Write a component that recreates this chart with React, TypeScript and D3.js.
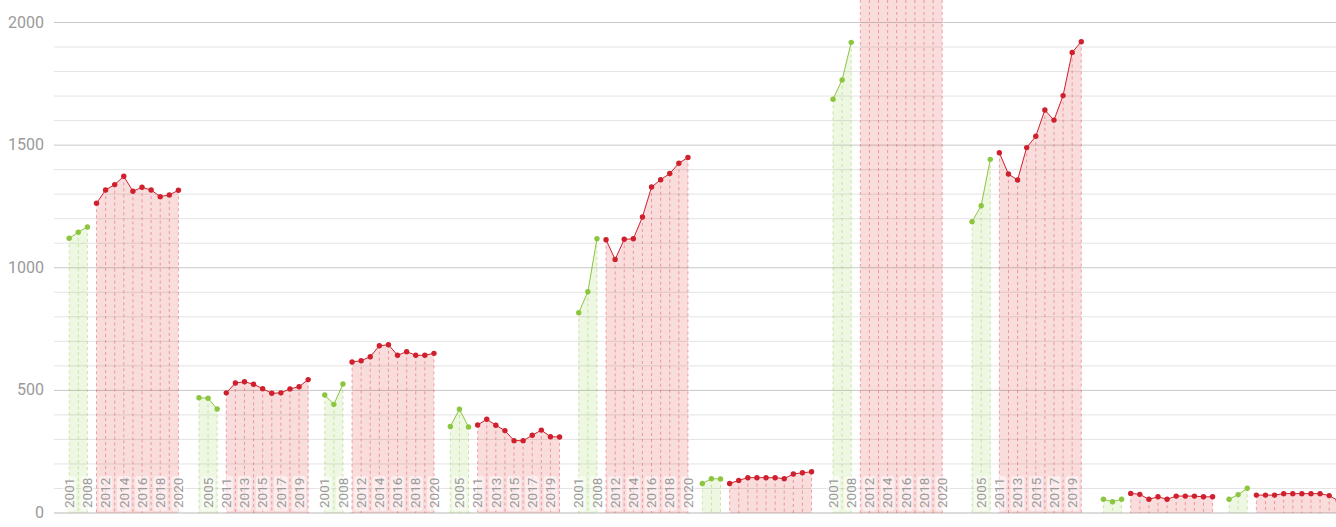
import React from "react";
import * as d3 from "d3";

// category labels
const years = ["2001", "2005", "2008", "2011", "2012", "2013", "2014", "2015", "2016", "2017", "2018", "2019", "2020"];
const greenYears = years.slice(0, 3);
const redYears = years.slice(3);

// where each group starts on the x axis (category units)
const groupStart = [0, 14.26, 28.08, 41.88, 55.99, 69.57, 83.93, 99.21, 113.64, 127.45];

const greenValues = [
  [1120, 1145, 1166],
  [470, 468, 424],
  [481, 443, 526],
  [353, 423, 351],
  [817, 902, 1118],
  [120, 140, 139],
  [1687, 1766, 1919],
  [1188, 1253, 1442],
  [56, 46, 56],
  [56, 75, 101],
];

const redValues = [
  [1263, 1317, 1339, 1373, 1312, 1328, 1317, 1290, 1297, 1316],
  [490, 530, 535, 525, 507, 488, 490, 506, 515, 544],
  [616, 621, 637, 682, 686, 643, 658, 643, 643, 651],
  [359, 382, 358, 336, 295, 295, 317, 338, 311, 310],
  [1114, 1034, 1116, 1118, 1207, 1329, 1359, 1384, 1426, 1450],
  [120, 133, 144, 144, 144, 144, 140, 159, 164, 168],
  [2350, 2400, 2420, 2450, 2480, 2500, 2520, 2550, 2580, 2600],
  [1469, 1382, 1358, 1490, 1536, 1643, 1602, 1702, 1878, 1922],
  [80, 76, 56, 66, 56, 69, 69, 69, 66, 66],
  [73, 73, 73, 79, 79, 79, 79, 79, 71, 50],
];

const yTicks = [0, 500, 1000, 1500, 2000];

const W = 1336, H = 527;
const GREEN = "#8cc63f", RED = "#d0202e";

export default function App() {
  const x = d3.scaleLinear().domain([0, 139.2]).range([69.2, 1336]);
  const y = d3.scaleLinear().domain([0, 2000]).range([513, 22.5]);
  const top = 0;
  const gridVals = d3.range(100, 2101, 100).filter((v) => y(v) >= 0);

  type P = { xi: number; v: number; label: string };
  const series = (g: number, vals: number[], labels: string[], off: number): P[] =>
    vals.map((v, i) => ({ xi: groupStart[g] + off + i, v, label: labels[i] }));

  const area = d3.area<P>().x((d) => x(d.xi)).y0(y(0)).y1((d) => Math.max(top, y(d.v)));
  const line = d3.line<P>().x((d) => x(d.xi)).y((d) => y(d.v));

  const groups = greenValues.map((gv, g) => ({
    green: series(g, gv, greenYears, 0),
    red: series(g, redValues[g], redYears, 3),
  }));

  const drawSeries = (pts: P[], color: string, fill: string, dash: string, key: string) => (
    <g key={key}>
      <path d={area(pts) || ""} fill={fill} />
      {pts.map((d, i) => (
        <line key={i} x1={x(d.xi)} x2={x(d.xi)} y1={Math.max(top, y(d.v))} y2={y(0)}
          stroke={dash} strokeWidth={1} strokeDasharray="3,3" />
      ))}
      <path d={line(pts) || ""} fill="none" stroke={color} strokeWidth={1} />
      {pts.filter((d) => y(d.v) > top).map((d, i) => (
        <circle key={i} cx={x(d.xi)} cy={y(d.v)} r={2.7} fill={color} />
      ))}
    </g>
  );

  return (
    <svg width={W} height={H} style={{ position: "absolute", left: 0, top: 0, fontFamily: "Roboto, sans-serif" }}>
      <defs>
        <clipPath id="plot"><rect x={55} y={0} width={W - 55} height={514} /></clipPath>
      </defs>
      {gridVals.map((v) => (
        <line key={v} x1={54} x2={W} y1={y(v)} y2={y(v)}
          stroke={v % 500 === 0 ? "#c8c8c8" : "#e4e4e4"} strokeWidth={1} />
      ))}
      <line x1={54} x2={W} y1={y(0)} y2={y(0)} stroke="#dcdcdc" strokeWidth={2} />
      {yTicks.map((t) => (
        <text key={t} x={44} y={y(t)} dy="0.32em" textAnchor="end" fontSize={16} fill="#9a9a9a">{t}</text>
      ))}
      <g clipPath="url(#plot)">
        {groups.map((gr, g) => (
          <g key={g}>
            {drawSeries(gr.green, GREEN, "rgba(140,198,63,0.15)", "rgba(140,198,63,0.4)", "g")}
            {drawSeries(gr.red, RED, "rgba(220,45,45,0.17)", "rgba(235,80,90,0.5)", "r")}
          </g>
        ))}
        {groups.map((gr, g) => {
          const all = [...gr.green, ...gr.red];
          if (d3.min(all, (d) => d.v)! < 200) return null;
          return all.filter((_, i) => (i + g) % 2 === 0).map((d) => (
            <g key={`${g}-${d.label}`} transform={`translate(${x(d.xi)},508) rotate(-90)`}>
              <rect x={-3} y={-7} width={35} height={14} rx={3} fill="#fff" opacity={0.5} />
              <text x={0} y={0} dy="0.35em" fontSize={13.5} fill="#9a9a9a">{d.label}</text>
            </g>
          ));
        })}
      </g>
    </svg>
  );
}
